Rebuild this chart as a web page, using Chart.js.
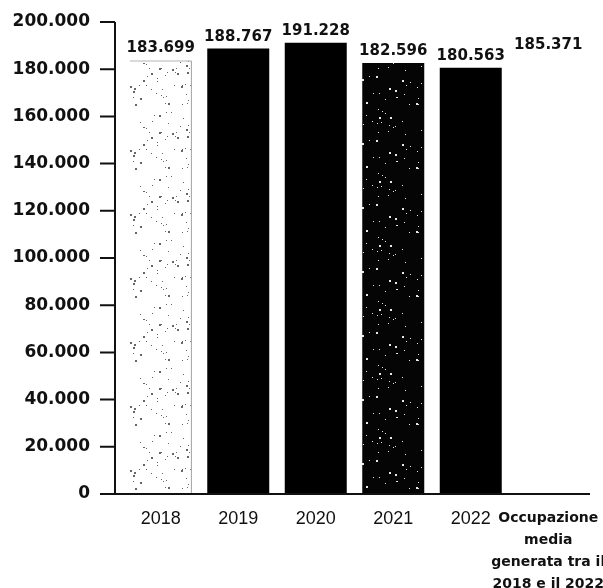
<!DOCTYPE html>
<html>
<head>
<meta charset="utf-8">
<script src="https://cdn.jsdelivr.net/npm/chart.js@4/dist/chart.umd.min.js"></script>
<style>
  html, body { margin: 0; padding: 0; background: #fff; }
  #wrap { width: 603px; height: 588px; position: relative; }
</style>
</head>
<body>
<div id="wrap"><canvas id="c" width="603" height="588"></canvas></div>
<script>
// Occupazione annua e media del periodo
const categories = ['2018', '2019', '2020', '2021', '2022',
  ['Occupazione', 'media', 'generata tra il', '2018 e il 2022']];
const values = [183699, 188767, 191228, 182596, 180563, 185371];
const yTicks = [0, 20000, 40000, 60000, 80000, 100000, 120000, 140000, 160000, 180000, 200000];

// Thousands separator in Italian style: 183699 -> "183.699"
function fmt(v) {
  return String(v).replace(/\B(?=(\d{3})+(?!\d))/g, '.');
}

// Small deterministic hash for texture dots
function hash(i) {
  const s = Math.sin(i * 12.9898 + 78.233) * 43758.5453;
  return s - Math.floor(s);
}

// Speckled texture: base colour with scattered dots
function speckle(base, dot, count, seed) {
  const size = 64;
  const cv = document.createElement('canvas');
  cv.width = size; cv.height = size;
  const g = cv.getContext('2d');
  g.fillStyle = base;
  g.fillRect(0, 0, size, size);
  g.fillStyle = dot;
  for (let k = 0; k < count; k++) {
    const x = Math.floor(hash(seed + k * 3) * size);
    const y = Math.floor(hash(seed + k * 3 + 1) * size);
    const w = hash(seed + k * 3 + 2) > 0.7 ? 2 : 1;
    g.fillRect(x, y, w, w);
  }
  return g.createPattern(cv, 'repeat');
}

const ctx = document.getElementById('c').getContext('2d');
const lightSpeckle = speckle('#ffffff', '#666666', 55, 11);
const darkSpeckle = speckle('#050505', '#e8e8e8', 40, 97);

const fills = [lightSpeckle, '#000000', '#000000', darkSpeckle, '#000000', 'rgba(255,255,255,0)'];
const borders = ['#6a6a6a', '#000000', '#000000', '#000000', '#000000', 'rgba(255,255,255,0)'];

// Axis line with outward ticks, plus baseline
const axisPlugin = {
  id: 'axisLines',
  afterDatasetsDraw(chart) {
    const y = chart.scales.y;
    const area = chart.chartArea;
    const g = chart.ctx;
    const axisX = area.left - 7;
    g.save();
    g.strokeStyle = '#111';
    g.lineWidth = 2;
    g.beginPath();
    g.moveTo(axisX, y.getPixelForValue(200000));
    g.lineTo(axisX, y.getPixelForValue(0));
    yTicks.forEach(t => {
      const py = y.getPixelForValue(t);
      g.moveTo(axisX - 15, py);
      g.lineTo(axisX, py);
    });
    const base = y.getPixelForValue(0);
    g.moveTo(axisX - 15, base);
    g.lineTo(area.right + 3, base);
    g.stroke();
    g.restore();
  }
};

// Value labels above each bar
const valuePlugin = {
  id: 'valueLabels',
  afterDatasetsDraw(chart) {
    const meta = chart.getDatasetMeta(0);
    const g = chart.ctx;
    g.save();
    g.font = "bold 15px 'DejaVu Sans'";
    g.fillStyle = '#111';
    g.textAlign = 'center';
    g.textBaseline = 'alphabetic';
    meta.data.forEach((bar, i) => {
      g.fillText(fmt(values[i]), bar.x, bar.y - 8);
    });
    g.restore();
  }
};

new Chart(ctx, {
  type: 'bar',
  data: {
    labels: categories,
    datasets: [{
      data: values,
      backgroundColor: fills,
      borderColor: borders,
      borderWidth: [{ top: 1, right: 1, left: 0, bottom: 0 }, 0, 0, 0, 0, 0],
      borderSkipped: 'bottom',
      categoryPercentage: 1,
      barPercentage: 0.8
    }]
  },
  options: {
    responsive: false,
    animation: false,
    devicePixelRatio: 1,
    layout: { padding: { top: 22, right: 16, left: 0, bottom: 0 } },
    plugins: {
      legend: { display: false },
      tooltip: { enabled: false }
    },
    scales: {
      x: {
        grid: { display: false, drawTicks: false },
        border: { display: false },
        ticks: {
          padding: 14,
          maxRotation: 0,
          autoSkip: false,
          color: '#111',
          font: (c) => c.index === 5
            ? { family: 'DejaVu Sans', size: 14, weight: 'bold', lineHeight: 1.55 }
            : { family: 'Liberation Sans', size: 18, weight: 'normal', lineHeight: 1.2 }
        },
        afterFit(scale) {
          scale.height = 94;
          scale.paddingLeft = 0;
          scale.paddingRight = 0;
        }
      },
      y: {
        min: 0,
        max: 200000,
        afterBuildTicks(scale) { scale.ticks = yTicks.map(v => ({ value: v })); },
        grid: { display: false, drawTicks: false },
        border: { display: false },
        ticks: {
          padding: 32,
          color: '#111',
          font: { family: 'DejaVu Sans', size: 17, weight: 'bold' },
          callback: (v) => fmt(v)
        },
        afterFit(scale) {
          scale.width = 122;
          scale.paddingTop = 0;
          scale.paddingBottom = 0;
        }
      }
    }
  },
  plugins: [axisPlugin, valuePlugin]
});
</script>
</body>
</html>
